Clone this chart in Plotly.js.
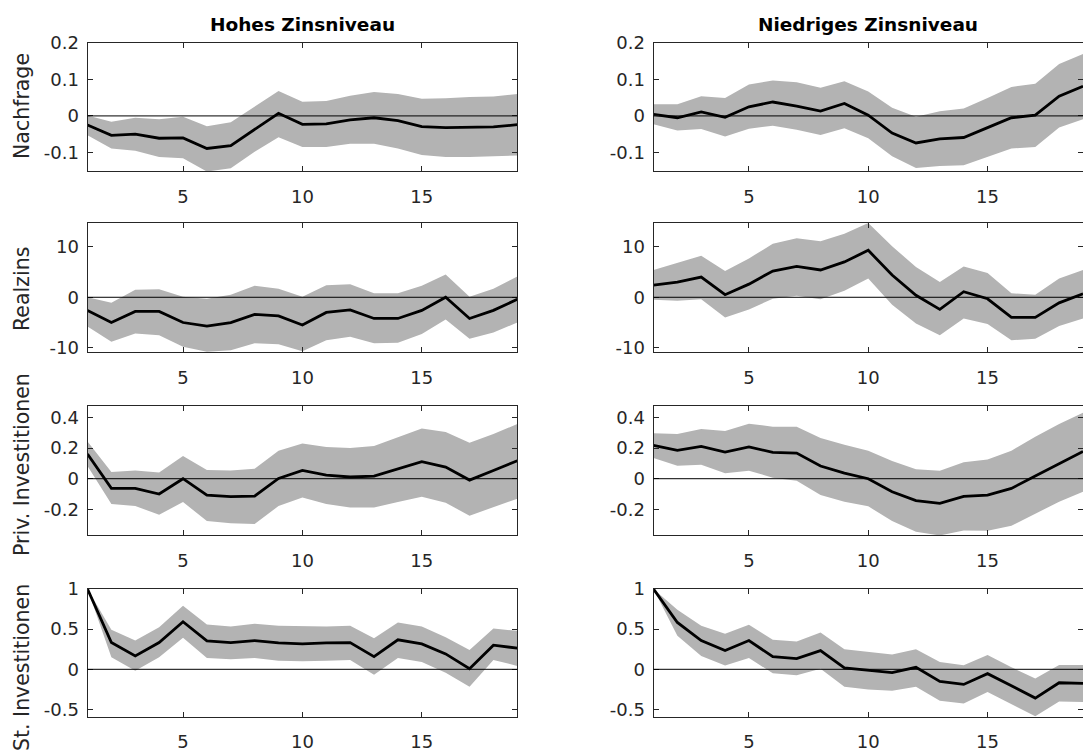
<!DOCTYPE html>
<html>
<head>
<meta charset="utf-8">
<script src="https://cdn.plot.ly/plotly-3.0.1.min.js"></script>
<style>
html, body { margin: 0; padding: 0; background: #fff; }
#chart { width: 1083px; height: 756px; }
</style>
</head>
<body>
<div id="chart"></div>
<script>
// Horizon (periods)
const periods = [1,2,3,4,5,6,7,8,9,10,11,12,13,14,15,16,17,18,19];

// Column titles and row labels
const columnTitles = ["Hohes Zinsniveau", "Niedriges Zinsniveau"];
const rowLabels = ["Nachfrage", "Realzins", "Priv. Investitionen", "St. Investitionen"];

// Y tick values / labels per row
const yTickVals = [[-0.1, 0, 0.1, 0.2], [-10, 0, 10], [-0.2, 0, 0.2, 0.4], [-0.5, 0, 0.5, 1]];
const yTickText = [["-0.1", "0", "0.1", "0.2"], ["-10", "0", "10"], ["-0.2", "0", "0.2", "0.4"], ["-0.5", "0", "0.5", "1"]];
const yRanges = [[-0.1505, 0.2], [-10.9, 14.65], [-0.367, 0.476], [-0.59, 1.0]];
const xTickVals = [5, 10, 15];
const xTickText = ["5", "10", "15"];

// ---- Nachfrage, hohes Zinsniveau ----
const nachfrageHochMed = [-0.025,-0.053,-0.050,-0.061,-0.060,-0.089,-0.081,-0.038,0.007,-0.023,-0.022,-0.011,-0.005,-0.013,-0.029,-0.032,-0.030,-0.030,-0.024];
const nachfrageHochHi  = [0.001,-0.016,-0.005,-0.009,-0.002,-0.028,-0.017,0.025,0.068,0.039,0.041,0.055,0.065,0.060,0.047,0.048,0.052,0.053,0.060];
const nachfrageHochLo  = [-0.053,-0.089,-0.095,-0.112,-0.116,-0.152,-0.143,-0.098,-0.058,-0.085,-0.085,-0.076,-0.076,-0.089,-0.107,-0.112,-0.112,-0.111,-0.108];

// ---- Nachfrage, niedriges Zinsniveau ----
const nachfrageNiedMed = [0.004,-0.005,0.011,-0.004,0.025,0.038,0.027,0.013,0.034,0.002,-0.047,-0.074,-0.063,-0.059,-0.032,-0.005,0.002,0.054,0.081];
const nachfrageNiedHi  = [0.032,0.032,0.054,0.049,0.086,0.097,0.092,0.077,0.095,0.067,0.022,-0.002,0.013,0.020,0.049,0.079,0.088,0.142,0.169];
const nachfrageNiedLo  = [-0.023,-0.040,-0.036,-0.056,-0.035,-0.027,-0.038,-0.052,-0.034,-0.061,-0.110,-0.142,-0.137,-0.135,-0.112,-0.089,-0.085,-0.032,-0.009];

// ---- Realzins, hohes Zinsniveau ----
const realzinsHochMed = [-2.6,-5.0,-2.8,-2.8,-5.0,-5.7,-5.0,-3.4,-3.7,-5.5,-3.0,-2.5,-4.2,-4.2,-2.6,0.0,-4.2,-2.6,-0.4];
const realzinsHochHi  = [0.0,-1.1,1.5,1.6,0.1,-0.3,0.5,2.3,1.7,0.1,2.4,2.6,0.8,0.8,2.3,4.5,0.1,1.7,4.1];
const realzinsHochLo  = [-5.8,-8.8,-7.2,-7.5,-9.8,-10.8,-10.5,-9.1,-9.3,-10.7,-8.5,-7.8,-9.1,-9.0,-7.3,-4.4,-8.2,-7.0,-5.0];

// ---- Realzins, niedriges Zinsniveau ----
const realzinsNiedMed = [2.4,3.0,4.0,0.5,2.6,5.2,6.1,5.4,7.0,9.3,4.4,0.4,-2.4,1.1,-0.3,-4.0,-4.0,-1.1,0.7];
const realzinsNiedHi  = [5.4,6.8,8.2,5.2,7.7,10.6,11.7,11.1,12.6,14.7,10.1,6.0,3.0,6.1,4.8,0.8,0.5,3.7,5.4];
const realzinsNiedLo  = [-0.5,-0.7,-0.4,-4.0,-2.4,-0.3,0.3,-0.4,1.3,3.7,-1.5,-5.2,-7.5,-4.2,-5.3,-8.5,-8.2,-5.7,-4.2];

// ---- Priv. Investitionen, hohes Zinsniveau ----
const privInvHochMed = [0.161,-0.063,-0.063,-0.100,0.000,-0.107,-0.117,-0.113,0.002,0.054,0.024,0.011,0.017,0.063,0.111,0.076,-0.009,0.054,0.117];
const privInvHochHi  = [0.243,0.043,0.054,0.041,0.148,0.057,0.054,0.065,0.183,0.230,0.207,0.200,0.213,0.270,0.328,0.304,0.235,0.291,0.357];
const privInvHochLo  = [0.083,-0.165,-0.178,-0.235,-0.152,-0.276,-0.291,-0.296,-0.178,-0.122,-0.165,-0.187,-0.187,-0.152,-0.117,-0.157,-0.241,-0.185,-0.130];

// ---- Priv. Investitionen, niedriges Zinsniveau ----
const privInvNiedMed = [0.217,0.185,0.211,0.174,0.207,0.172,0.167,0.083,0.037,0.000,-0.085,-0.143,-0.161,-0.115,-0.107,-0.063,0.017,0.098,0.178];
const privInvNiedHi  = [0.296,0.291,0.324,0.311,0.359,0.339,0.339,0.265,0.222,0.183,0.115,0.061,0.052,0.107,0.126,0.183,0.274,0.357,0.430];
const privInvNiedLo  = [0.135,0.085,0.091,0.035,0.052,0.007,-0.013,-0.107,-0.150,-0.180,-0.276,-0.346,-0.370,-0.337,-0.339,-0.307,-0.226,-0.150,-0.085];

// ---- St. Investitionen, hohes Zinsniveau ----
const stInvHochMed = [1.0,0.333,0.167,0.333,0.592,0.354,0.333,0.358,0.329,0.317,0.329,0.333,0.158,0.367,0.317,0.192,0.008,0.300,0.263];
const stInvHochHi  = [1.0,0.492,0.358,0.525,0.792,0.558,0.533,0.567,0.542,0.533,0.533,0.542,0.388,0.583,0.533,0.400,0.242,0.508,0.479];
const stInvHochLo  = [1.0,0.150,-0.017,0.150,0.392,0.142,0.125,0.142,0.108,0.100,0.108,0.117,-0.067,0.142,0.092,-0.042,-0.217,0.117,0.042];

// ---- St. Investitionen, niedriges Zinsniveau ----
const stInvNiedMed = [1.0,0.583,0.358,0.233,0.358,0.158,0.133,0.233,0.017,-0.017,-0.042,0.025,-0.150,-0.188,-0.054,-0.204,-0.358,-0.167,-0.175];
const stInvNiedHi  = [1.0,0.742,0.542,0.442,0.554,0.367,0.346,0.458,0.250,0.217,0.183,0.250,0.092,0.050,0.179,0.025,-0.113,0.054,0.054];
const stInvNiedLo  = [1.0,0.417,0.167,0.046,0.142,-0.050,-0.075,0.008,-0.217,-0.250,-0.267,-0.217,-0.392,-0.425,-0.283,-0.433,-0.583,-0.400,-0.408];

const panelData = [
  [nachfrageHochMed, nachfrageHochLo, nachfrageHochHi],
  [nachfrageNiedMed, nachfrageNiedLo, nachfrageNiedHi],
  [realzinsHochMed, realzinsHochLo, realzinsHochHi],
  [realzinsNiedMed, realzinsNiedLo, realzinsNiedHi],
  [privInvHochMed, privInvHochLo, privInvHochHi],
  [privInvNiedMed, privInvNiedLo, privInvNiedHi],
  [stInvHochMed, stInvHochLo, stInvHochHi],
  [stInvNiedMed, stInvNiedLo, stInvNiedHi]
];

// ---- Layout geometry (pixels) ----
const W = 1083, H = 756;
const colPx = [[87.5, 517.3], [653.5, 1083.3]];
const rowPx = [[42.7, 171.0], [223.3, 352.3], [405.7, 535.0], [589.0, 716.7]];

const FONT = "DejaVu Sans, Liberation Sans, Arial, sans-serif";
const AXC = "#262626";
const TICKSIZE = 18;

const traces = [];
const layout = {
  width: W, height: H,
  margin: {l: 0, r: 0, t: 0, b: 0},
  paper_bgcolor: "#ffffff",
  plot_bgcolor: "#ffffff",
  showlegend: false,
  font: {family: FONT, color: AXC, size: TICKSIZE},
  shapes: [],
  annotations: []
};

for (let i = 0; i < 8; i++) {
  const row = Math.floor(i / 2), col = i % 2;
  const n = i + 1;
  const xa = n === 1 ? "x" : "x" + n;
  const ya = n === 1 ? "y" : "y" + n;
  const [med, lo, hi] = panelData[i];

  traces.push({
    x: periods.concat(periods.slice().reverse()),
    y: hi.concat(lo.slice().reverse()),
    xaxis: xa, yaxis: ya,
    type: "scatter", mode: "lines",
    fill: "toself", fillcolor: "rgb(179,179,179)",
    line: {width: 0, color: "rgba(0,0,0,0)"},
    hoverinfo: "skip"
  });
  traces.push({
    x: periods, y: med,
    xaxis: xa, yaxis: ya,
    type: "scatter", mode: "lines",
    line: {color: "#000000", width: 2.8},
    hoverinfo: "skip"
  });

  const xd = [colPx[col][0] / W, Math.min(1, colPx[col][1] / W)];
  const yd = [1 - rowPx[row][1] / H, 1 - rowPx[row][0] / H];

  layout["xaxis" + (n === 1 ? "" : n)] = {
    domain: xd, anchor: ya,
    range: [periods[0], periods[periods.length - 1]],
    tickvals: xTickVals, ticktext: xTickText,
    ticks: "inside", ticklen: 5, tickwidth: 1, tickcolor: AXC,
    showline: true, linecolor: AXC, linewidth: 1, mirror: "ticks",
    showgrid: false, zeroline: false,
    ticklabelstandoff: 9,
    tickfont: {family: FONT, size: TICKSIZE, color: AXC}
  };
  layout["yaxis" + (n === 1 ? "" : n)] = {
    domain: yd, anchor: xa,
    range: yRanges[row],
    tickvals: yTickVals[row], ticktext: yTickText[row],
    ticks: "inside", ticklen: 5, tickwidth: 1, tickcolor: AXC,
    showline: true, linecolor: AXC, linewidth: 1, mirror: "ticks",
    showgrid: false, zeroline: false,
    ticklabelstandoff: 4,
    tickfont: {family: FONT, size: TICKSIZE, color: AXC}
  };

  layout.shapes.push({
    type: "line", layer: "above",
    xref: xa + " domain", yref: ya,
    x0: 0, x1: 1, y0: 0, y1: 0,
    line: {color: "#000000", width: 1}
  });
}

// Column titles
const titleY = [25, 25];
columnTitles.forEach((t, c) => {
  layout.annotations.push({
    text: "<b>" + t + "</b>",
    xref: "paper", yref: "paper",
    x: (colPx[c][0] + Math.min(W, colPx[c][1])) / 2 / W,
    y: 1 - titleY[c] / H,
    xanchor: "center", yanchor: "middle",
    showarrow: false,
    font: {family: FONT, size: 18.5, color: "#000000"}
  });
});

// Row labels (y-axis titles)
const rowLabelY = [106, 289, 465, 668];
rowLabels.forEach((t, r) => {
  layout.annotations.push({
    text: t,
    xref: "paper", yref: "paper",
    x: 22 / W, y: 1 - rowLabelY[r] / H,
    xanchor: "center", yanchor: "middle",
    textangle: -90,
    showarrow: false,
    font: {family: FONT, size: 20.5, color: AXC}
  });
});

Plotly.newPlot("chart", traces, layout, {displayModeBar: false, staticPlot: true});
</script>
</body>
</html>
